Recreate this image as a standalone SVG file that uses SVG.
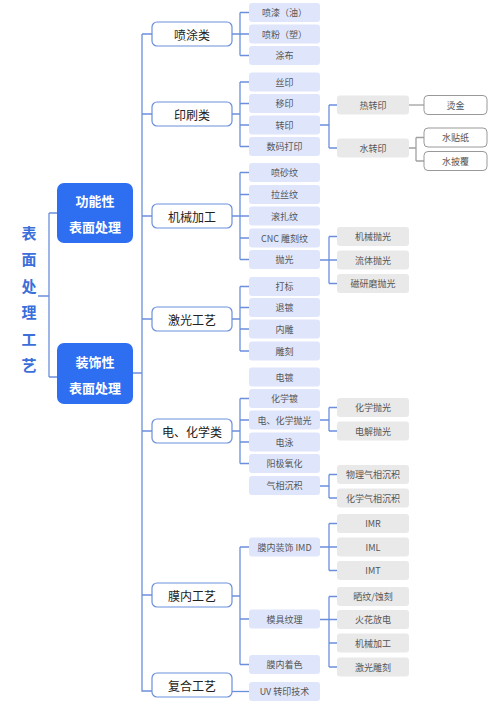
<svg xmlns="http://www.w3.org/2000/svg" width="500" height="707" viewBox="0 0 500 707">
<style>
text{font-family:"Noto Sans CJK SC","Noto Sans",sans-serif;text-anchor:middle;dominant-baseline:central}
.title{font-size:15px;font-weight:bold;fill:#3b6fd9}
.main rect{fill:#2e6ff2}
.main text{font-size:13px;font-weight:bold;fill:#fff}
.cat rect{fill:#fff;stroke:#6b8fdc;stroke-width:1.2}
.cat text{font-size:12px;fill:#222}
.c2 rect{fill:#dfe6fc}
.c2 text{font-size:9px;fill:#555}
.c3 rect{fill:#e9e9e9}
.c3 text{font-size:9px;fill:#555}
.c4 rect{fill:#fff;stroke:#999;stroke-width:1}
.c4 text{font-size:9px;fill:#555}
.b{fill:none;stroke:#6b8fdc;stroke-width:1.3}
.g{fill:none;stroke:#a0a0a0;stroke-width:1.3}
</style>
<rect width="500" height="707" fill="#fff"/>
<g id="connectors">
<path class="b" d="M38 296H49M49 213V377M49 213H57M49 377H57"/>
<path class="b" d="M133 373H142M142 34V691H152M142 34H152M142 114H152M142 216H152M142 319H152M142 431H152M142 595H152"/>
<path class="b" d="M232 34H240M240 12.5V55.5M240 12.5H249M240 34H249M240 55.5H249"/>
<path class="b" d="M232 114H240M240 82V146.5M240 82H249M240 103.5H249M240 125H249M240 146.5H249"/>
<path class="b" d="M232 216H240M240 172.5V259.5M240 172.5H249M240 194.5H249M240 216H249M240 238H249M240 259.5H249"/>
<path class="b" d="M232 319H240M240 286.5V351M240 286.5H249M240 307.5H249M240 329H249M240 351H249"/>
<path class="b" d="M232 431H240M240 398.5V463.5M240 398.5H249M240 420H249M240 442H249M240 463.5H249"/>
<path class="b" d="M232 596H240M240 547V664.5M240 547H249M240 619H249M240 664.5H249"/>
<path class="b" d="M232 691.5H249"/>
<path class="b" d="M320 125H329M329 105V148M329 105H337M329 148H337"/>
<path class="b" d="M320 260H329M329 236.5V283.5M329 236.5H337M329 260H337M329 283.5H337"/>
<path class="b" d="M320 420H329M329 407.5V431M329 407.5H337M329 431H337"/>
<path class="b" d="M320 486H329M329 474.5V498M329 474.5H337M329 498H337"/>
<path class="b" d="M320 547H329M329 523.5V570.5M329 523.5H337M329 547H337M329 570.5H337"/>
<path class="b" d="M320 619.5H329M329 596.5V667M329 596.5H337M329 619.5H337M329 643H337M329 667H337"/>
<path class="g" d="M409 105H424"/>
<path class="g" d="M409 148H416M416 137.5V161M416 137.5H424M416 161H424"/>
</g>
<g id="title" class="title">
<text x="29" y="232">表</text>
<text x="29" y="258.5">面</text>
<text x="29" y="285">处</text>
<text x="29" y="311.5">理</text>
<text x="29" y="338">工</text>
<text x="29" y="364">艺</text>
</g>
<g id="n-func" class="main"><rect x="57" y="183" width="76" height="60" rx="7"/><text x="95" y="200">功能性</text><text x="95" y="226">表面处理</text></g>
<g id="n-deco" class="main"><rect x="57" y="343" width="76" height="61" rx="7"/><text x="95" y="361">装饰性</text><text x="95" y="387">表面处理</text></g>
<g id="n-spray" class="cat"><rect x="152" y="22" width="80" height="24" rx="5"/><text x="192" y="34">喷涂类</text></g>
<g id="n-print" class="cat"><rect x="152" y="102" width="80" height="24" rx="5"/><text x="192" y="114">印刷类</text></g>
<g id="n-mech" class="cat"><rect x="152" y="204" width="80" height="24" rx="5"/><text x="192" y="216">机械加工</text></g>
<g id="n-laser" class="cat"><rect x="152" y="307" width="80" height="24" rx="5"/><text x="192" y="319">激光工艺</text></g>
<g id="n-chem" class="cat"><rect x="152" y="419" width="80" height="24" rx="5"/><text x="192" y="431">电、化学类</text></g>
<g id="n-film" class="cat"><rect x="152" y="583" width="80" height="24" rx="5"/><text x="192" y="595">膜内工艺</text></g>
<g id="n-comp" class="cat"><rect x="152" y="673" width="80" height="24" rx="5"/><text x="192" y="685">复合工艺</text></g>
<g class="c2">
<g id="n-s1"><rect x="249" y="3" width="71" height="19" rx="3"/><text x="284.5" y="12.5">喷漆（油）</text></g>
<g id="n-s2"><rect x="249" y="24.5" width="71" height="19" rx="3"/><text x="284.5" y="34">喷粉（塑）</text></g>
<g id="n-s3"><rect x="249" y="46" width="71" height="19" rx="3"/><text x="284.5" y="55.5">涂布</text></g>
<g id="n-p1"><rect x="249" y="72.5" width="71" height="19" rx="3"/><text x="284.5" y="82">丝印</text></g>
<g id="n-p2"><rect x="249" y="94" width="71" height="19" rx="3"/><text x="284.5" y="103.5">移印</text></g>
<g id="n-p3"><rect x="249" y="115.5" width="71" height="19" rx="3"/><text x="284.5" y="125">转印</text></g>
<g id="n-p4"><rect x="249" y="137" width="71" height="19" rx="3"/><text x="284.5" y="146.5">数码打印</text></g>
<g id="n-m1"><rect x="249" y="163" width="71" height="19" rx="3"/><text x="284.5" y="172.5">喷砂纹</text></g>
<g id="n-m2"><rect x="249" y="185" width="71" height="19" rx="3"/><text x="284.5" y="194.5">拉丝纹</text></g>
<g id="n-m3"><rect x="249" y="206.5" width="71" height="19" rx="3"/><text x="284.5" y="216">滚扎纹</text></g>
<g id="n-m4"><rect x="249" y="228.5" width="71" height="19" rx="3"/><text x="284.5" y="238">CNC 雕刻纹</text></g>
<g id="n-m5"><rect x="249" y="250" width="71" height="19" rx="3"/><text x="284.5" y="259.5">抛光</text></g>
<g id="n-l1"><rect x="249" y="277" width="71" height="19" rx="3"/><text x="284.5" y="286.5">打标</text></g>
<g id="n-l2"><rect x="249" y="298" width="71" height="19" rx="3"/><text x="284.5" y="307.5">退镀</text></g>
<g id="n-l3"><rect x="249" y="319.5" width="71" height="19" rx="3"/><text x="284.5" y="329">内雕</text></g>
<g id="n-l4"><rect x="249" y="341.5" width="71" height="19" rx="3"/><text x="284.5" y="351">雕刻</text></g>
<g id="n-e1"><rect x="249" y="367.5" width="71" height="19" rx="3"/><text x="284.5" y="377">电镀</text></g>
<g id="n-e2"><rect x="249" y="389" width="71" height="19" rx="3"/><text x="284.5" y="398.5">化学镀</text></g>
<g id="n-e3"><rect x="249" y="410.5" width="71" height="19" rx="3"/><text x="284.5" y="420">电、化学抛光</text></g>
<g id="n-e4"><rect x="249" y="432.5" width="71" height="19" rx="3"/><text x="284.5" y="442">电泳</text></g>
<g id="n-e5"><rect x="249" y="454" width="71" height="19" rx="3"/><text x="284.5" y="463.5">阳极氧化</text></g>
<g id="n-e6"><rect x="249" y="476" width="71" height="19" rx="3"/><text x="284.5" y="485.5">气相沉积</text></g>
<g id="n-f1"><rect x="249" y="537.5" width="71" height="19" rx="3"/><text x="284.5" y="547">膜内装饰 IMD</text></g>
<g id="n-f2"><rect x="249" y="609.5" width="71" height="19" rx="3"/><text x="284.5" y="619">模具纹理</text></g>
<g id="n-f3"><rect x="249" y="655" width="71" height="19" rx="3"/><text x="284.5" y="664.5">膜内着色</text></g>
<g id="n-c1"><rect x="249" y="682" width="71" height="19" rx="3"/><text x="284.5" y="691.5">UV 转印技术</text></g>
</g>
<g class="c3">
<g id="n-t1"><rect x="337" y="95.5" width="72" height="19" rx="3"/><text x="373" y="105">热转印</text></g>
<g id="n-t2"><rect x="337" y="138.5" width="72" height="19" rx="3"/><text x="373" y="148">水转印</text></g>
<g id="n-po1"><rect x="337" y="227" width="72" height="19" rx="3"/><text x="373" y="236.5">机械抛光</text></g>
<g id="n-po2"><rect x="337" y="250.5" width="72" height="19" rx="3"/><text x="373" y="260">流体抛光</text></g>
<g id="n-po3"><rect x="337" y="274" width="72" height="19" rx="3"/><text x="373" y="283.5">磁研磨抛光</text></g>
<g id="n-ep1"><rect x="337" y="398" width="72" height="19" rx="3"/><text x="373" y="407.5">化学抛光</text></g>
<g id="n-ep2"><rect x="337" y="421.5" width="72" height="19" rx="3"/><text x="373" y="431">电解抛光</text></g>
<g id="n-v1"><rect x="337" y="465" width="72" height="19" rx="3"/><text x="373" y="474.5">物理气相沉积</text></g>
<g id="n-v2"><rect x="337" y="488.5" width="72" height="19" rx="3"/><text x="373" y="498">化学气相沉积</text></g>
<g id="n-i1"><rect x="337" y="514" width="72" height="19" rx="3"/><text x="373" y="523.5">IMR</text></g>
<g id="n-i2"><rect x="337" y="537.5" width="72" height="19" rx="3"/><text x="373" y="547">IML</text></g>
<g id="n-i3"><rect x="337" y="561" width="72" height="19" rx="3"/><text x="373" y="570.5">IMT</text></g>
<g id="n-mt1"><rect x="337" y="587" width="72" height="19" rx="3"/><text x="373" y="596.5">晒纹/蚀刻</text></g>
<g id="n-mt2"><rect x="337" y="610" width="72" height="19" rx="3"/><text x="373" y="619.5">火花放电</text></g>
<g id="n-mt3"><rect x="337" y="633.5" width="72" height="19" rx="3"/><text x="373" y="643">机械加工</text></g>
<g id="n-mt4"><rect x="337" y="657.5" width="72" height="19" rx="3"/><text x="373" y="667">激光雕刻</text></g>
</g>
<g class="c4">
<g id="n-h1"><rect x="424" y="95.5" width="63" height="19" rx="4"/><text x="455.5" y="105">烫金</text></g>
<g id="n-w1"><rect x="424" y="128" width="63" height="19" rx="4"/><text x="455.5" y="137.5">水贴纸</text></g>
<g id="n-w2"><rect x="424" y="151.5" width="63" height="19" rx="4"/><text x="455.5" y="161">水披覆</text></g>
</g>
</svg>
